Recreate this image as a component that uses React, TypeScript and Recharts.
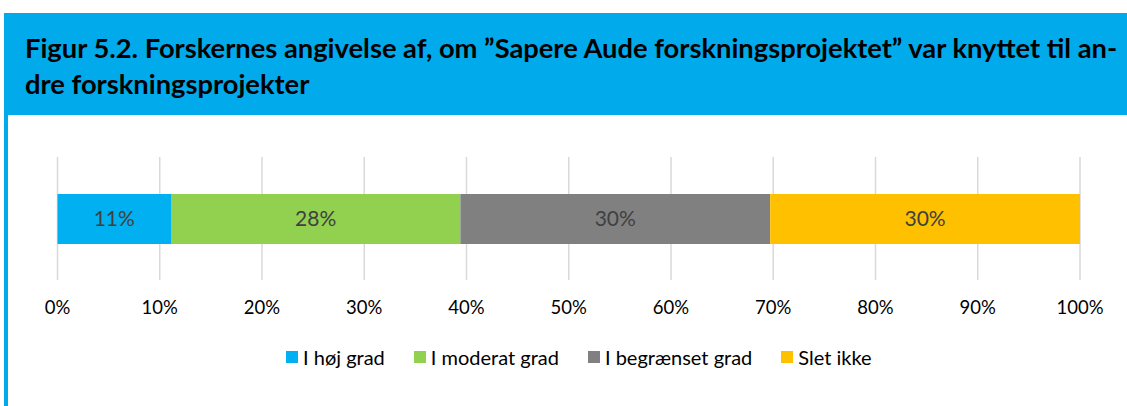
import React from 'react';
import { BarChart, Bar, XAxis, YAxis, CartesianGrid, LabelList } from 'recharts';

const categories = ['Sapere Aude forskningsprojektet'];
const seriesNames = ['I høj grad', 'I moderat grad', 'I begrænset grad', 'Slet ikke'];
const hojGrad = [11.1];
const moderatGrad = [28.3];
const begraensetGrad = [30.3];
const sletIkke = [30.3];
const seriesColors = ['#00B0F0', '#92D050', '#808080', '#FFC000'];
const xTicks = [0, 10, 20, 30, 40, 50, 60, 70, 80, 90, 100];
const titleLine1 = 'Figur 5.2. Forskernes angivelse af, om ”Sapere Aude forskningsprojektet” var knyttet til an-';
const titleLine2 = 'dre forskningsprojekter';

const seriesValues = [hojGrad, moderatGrad, begraensetGrad, sletIkke];
const data = categories.map((c, i) => {
  const row: Record<string, string | number> = { category: c };
  seriesNames.forEach((s, j) => {
    row[s] = seriesValues[j][i];
  });
  return row;
});

const FONT = 'Lato, "Open Sans", sans-serif';
const BLUE = '#00AAEB';

export default function App() {
  return (
    <div style={{ position: 'absolute', left: 0, top: 0, width: 1127, height: 406, background: '#fff', fontFamily: FONT, overflow: 'hidden' }}>
      <style>{'body{margin:0}'}</style>
      <div style={{ position: 'absolute', left: 4, top: 13, width: 1123, height: 102, background: BLUE }}>
        <div style={{ position: 'absolute', left: 21, top: 17, fontWeight: 700, fontSize: 27.3, lineHeight: '35.5px', color: '#000', whiteSpace: 'nowrap' }}>
          {titleLine1}
          <br />
          {titleLine2}
        </div>
      </div>
      <div style={{ position: 'absolute', left: 4, top: 115, width: 4, height: 291, background: BLUE }} />
      <div style={{ position: 'absolute', left: 0, top: 0 }}>
        <BarChart
          width={1127}
          height={406}
          data={data}
          layout="vertical"
          margin={{ top: 157, right: 47, left: 57.5, bottom: 86 }}
        >
          <CartesianGrid horizontal={false} stroke="#D9D9D9" strokeWidth={1.5} />
          <XAxis
            type="number"
            domain={[0, 100]}
            ticks={xTicks}
            tickFormatter={(v: number) => `${v}%`}
            axisLine={false}
            tickLine={false}
            tickSize={0}
            tickMargin={21}
            height={40}
            interval={0}
            tick={{ fill: '#000', fontSize: 18.5, fontFamily: FONT }}
          />
          <YAxis type="category" dataKey="category" hide />
          {seriesNames.map((s, j) => (
            <Bar key={s} dataKey={s} stackId="a" fill={seriesColors[j]} barSize={50} isAnimationActive={false}>
              <LabelList
                dataKey={s}
                position="center"
                formatter={(v: number) => `${Math.round(v)}%`}
                fill="#404040"
                style={{ fontSize: 21, fontFamily: FONT }}
              />
            </Bar>
          ))}
        </BarChart>
      </div>
      <div style={{ position: 'absolute', left: 286, top: 345, display: 'flex', alignItems: 'center', fontSize: 20, color: '#000', whiteSpace: 'nowrap' }}>
        {seriesNames.map((s, j) => (
          <div key={s} style={{ display: 'flex', alignItems: 'center', marginRight: 29 }}>
            <div style={{ width: 12, height: 12, background: seriesColors[j], marginRight: 5 }} />
            <span>{s}</span>
          </div>
        ))}
      </div>
    </div>
  );
}
